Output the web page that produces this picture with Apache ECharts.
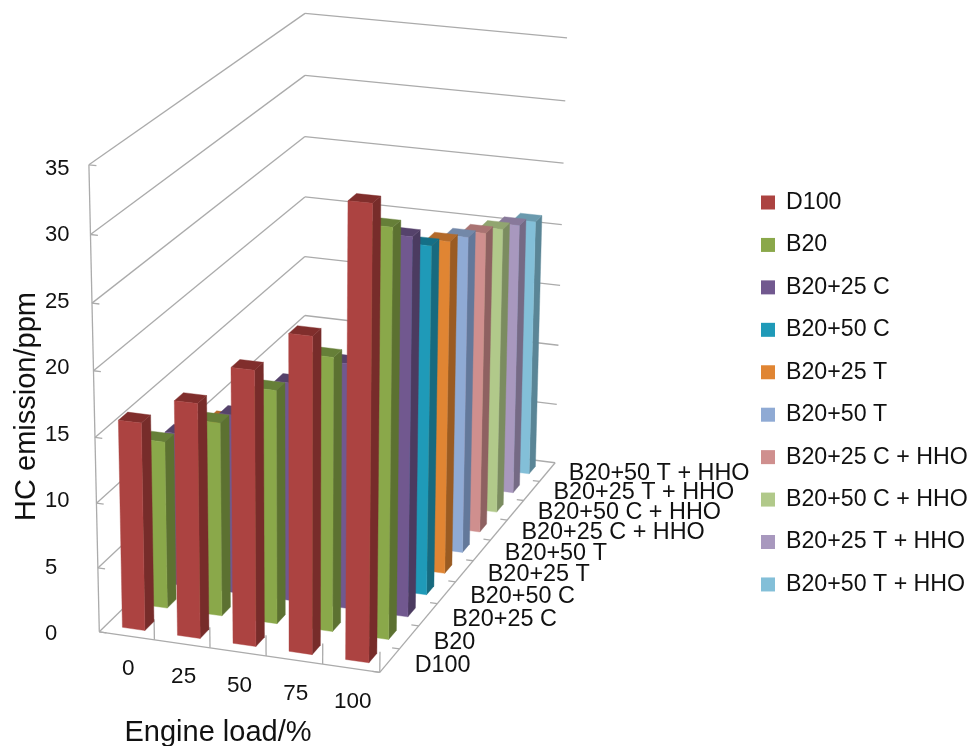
<!DOCTYPE html>
<html>
<head>
<meta charset="utf-8">
<style>html,body{margin:0;padding:0;background:#fff}#chart{width:970px;height:746px}</style>
<script src="https://cdn.jsdelivr.net/npm/echarts@6/dist/echarts.min.js"></script>
</head>
<body>
<div id="chart"></div>
<script>
// Categories along the two floor axes
const loads = ['0', '25', '50', '75', '100'];
const fuels = ['D100', 'B20', 'B20+25 C', 'B20+50 C', 'B20+25 T', 'B20+50 T',
  'B20+25 C + HHO', 'B20+50 C + HHO', 'B20+25 T + HHO', 'B20+50 T + HHO'];

// HC emission (ppm) per fuel, one value per engine load
const d100     = [16, 18, 21, 24, 34];
const b20      = [13, 15, 18, 21, 31];
const b20c25   = [12, 14, 17, 19, 29];
const b20c50   = [10, 13, 15, 18, 27];
const b20t25   = [10, 12, 14, 17, 26];
const b20t50   = [8, 11, 13, 16, 25];
const b20c25h  = [7, 11, 12, 15, 24];
const b20c50h  = [7, 10, 12, 15, 23];
const b20t25h  = [6, 8, 11, 14, 22];
const b20t50h  = [6, 8, 10, 13, 21];
const fuelValues = [d100, b20, b20c25, b20c50, b20t25, b20t50, b20c25h, b20c50h, b20t25h, b20t50h];

const valueTicks = [0, 5, 10, 15, 20, 25, 30, 35];

// Face shades per fuel: front, side, top
const shades = [
  ['#AC4341', '#772C2A', '#802E2C'], ['#8AA84A', '#5C7131', '#667F38'],
  ['#71588F', '#4B3B60', '#55426B'], ['#1F9AB8', '#176A7F', '#146F87'],
  ['#E08533', '#9A5B22', '#B36A2A'], ['#8FAAD4', '#63789A', '#7388A8'],
  ['#CF8F8E', '#8E6161', '#A97372'], ['#B1C98A', '#7B8C60', '#91A570'],
  ['#A898BE', '#756A85', '#88799A'], ['#83BFD8', '#5A8596', '#6A9AAE']
];

// Perspective camera: fitted from where the box corners land on the page
const anchors = [
  [0, 0, 0, 99, 631], [5, 0, 0, 380, 673], [5, 10, 0, 555, 462], [0, 10, 0, 305, 432],
  [0, 0, 35, 89, 165], [0, 10, 35, 305, 13], [5, 10, 35, 567, 38]
];
function fitCamera(pts) {
  const n = 11, A = [], b = [];
  for (let i = 0; i < n; i++) { A.push(new Array(n).fill(0)); b.push(0); }
  const addRow = (r, t) => {
    for (let i = 0; i < n; i++) { b[i] += r[i] * t; for (let j = 0; j < n; j++) A[i][j] += r[i] * r[j]; }
  };
  pts.forEach(([X0, Y0, Z0, x, y]) => {
    const X = X0 / 5, Y = Y0 / 10, Z = Z0 / 35;
    addRow([X, Y, Z, 1, 0, 0, 0, 0, -x * X, -x * Y, -x * Z], x);
    addRow([0, 0, 0, 0, X, Y, Z, 1, -y * X, -y * Y, -y * Z], y);
  });
  for (let c = 0; c < n; c++) {
    let p = c;
    for (let r = c + 1; r < n; r++) if (Math.abs(A[r][c]) > Math.abs(A[p][c])) p = r;
    [A[c], A[p]] = [A[p], A[c]]; [b[c], b[p]] = [b[p], b[c]];
    for (let r = c + 1; r < n; r++) {
      const f = A[r][c] / A[c][c];
      for (let k = c; k < n; k++) A[r][k] -= f * A[c][k];
      b[r] -= f * b[c];
    }
  }
  const h = new Array(n).fill(0);
  for (let r = n - 1; r >= 0; r--) {
    let s = b[r];
    for (let k = r + 1; k < n; k++) s -= A[r][k] * h[k];
    h[r] = s / A[r][r];
  }
  return h;
}
const cam = fitCamera(anchors);
function project(u, v, w) {
  const X = u / 5, Y = v / 10, Z = w / 35;
  const d = cam[8] * X + cam[9] * Y + cam[10] * Z + 1;
  return [(cam[0] * X + cam[1] * Y + cam[2] * Z + cam[3]) / d,
          (cam[4] * X + cam[5] * Y + cam[6] * Z + cam[7]) / d];
}

const barU = 0.41, barV = 0.40;
const lineStyle = { stroke: '#ABABAB', lineWidth: 1.3, fill: null };
const textColor = '#111';
const fontFamily = '"Liberation Sans", Arial, sans-serif';

function seg(a, b) {
  return { type: 'line', shape: { x1: a[0], y1: a[1], x2: b[0], y2: b[1] }, style: lineStyle, silent: true };
}
function label(text, pos, align, size) {
  return { type: 'text', x: pos[0], y: pos[1], silent: true, style: {
    text, fill: textColor, font: size + 'px ' + fontFamily, align, verticalAlign: 'middle' } };
}

// Walls, gridlines, floor edges, ticks and the slanted floor-axis labels
function renderFrame() {
  const kids = [];
  valueTicks.forEach((w) => {
    kids.push(seg(project(0, 0, w), project(0, 10, w)));
    kids.push(seg(project(0, 10, w), project(5, 10, w)));
    kids.push(seg(project(0, 0, w), project(0.13, 0, w)));
  });
  kids.push(seg(project(0, 0, 0), project(0, 0, 35)));
  kids.push(seg(project(0, 0, 0), project(5, 0, 0)));
  kids.push(seg(project(5, 0, 0), project(5, 10, 0)));
  loads.forEach((name, i) => {
    kids.push(seg(project(i + 1, 0, 0), project(i + 1, 0, 1.6)));
    const p = project(i + 0.5, 0, 0);
    kids.push(label(name, [p[0] + 1.5, p[1] + 33.5], 'center', 22.5));
  });
  fuels.forEach((name, i) => {
    kids.push(seg(project(5, i, 0), project(4.87, i, 0)));
    const p = project(5, i + 0.5, 0);
    kids.push(label(name, [p[0] + 25 - 0.4 * i, p[1] + 5.5 - 0.45 * i], 'left', 23.4));
  });
  return { type: 'group', children: kids };
}

// One bar as three visible faces, from its load index and value
function renderBar(fuelIndex) {
  return function (params, api) {
    const u = api.value(0), w = api.value(1);
    const u0 = u + 0.5 - barU / 2, u1 = u + 0.5 + barU / 2;
    const v0 = fuelIndex + 0.5 - barV / 2, v1 = fuelIndex + 0.5 + barV / 2;
    const c = shades[fuelIndex];
    const face = (pts, fill) => ({ type: 'polygon', shape: { points: pts }, silent: true,
      style: { fill, stroke: fill, lineWidth: 0.4 } });
    return { type: 'group', children: [
      face([project(u1, v0, 0), project(u1, v1, 0), project(u1, v1, w), project(u1, v0, w)], c[1]),
      face([project(u0, v0, w), project(u1, v0, w), project(u1, v1, w), project(u0, v1, w)], c[2]),
      face([project(u0, v0, 0), project(u1, v0, 0), project(u1, v0, w), project(u0, v0, w)], c[0])
    ] };
  };
}

const barSeries = fuels.map((name, i) => ({
  name, type: 'custom', coordinateSystem: 'cartesian2d', z: 30 - i,
  itemStyle: { color: shades[i][0] },
  encode: { x: 0, y: 1 },
  data: fuelValues[i].map((val, k) => [k, val]),
  renderItem: renderBar(i)
}));

const chart = echarts.init(document.getElementById('chart'), null, { renderer: 'canvas' });
chart.setOption({
  animation: false,
  backgroundColor: '#fff',
  textStyle: { fontFamily },
  grid: { left: 85, right: 619, top: 169, bottom: 112, outerBoundsMode: 'none' },
  xAxis: {
    type: 'category', data: loads,
    name: 'Engine load/%', nameLocation: 'middle', nameGap: 84,
    nameTextStyle: { fontSize: 29, color: textColor, fontFamily },
    axisLine: { show: false }, axisTick: { show: false }, axisLabel: { show: false }, splitLine: { show: false }
  },
  yAxis: {
    type: 'value', min: 0, max: 35, interval: 5,
    name: 'HC emission/ppm', nameLocation: 'middle', nameGap: 43,
    nameTextStyle: { fontSize: 29, color: textColor, fontFamily, padding: [0, 10, 0, 0] },
    axisLine: { show: false }, axisTick: { show: false }, splitLine: { show: false },
    axisLabel: { fontSize: 22, color: textColor, fontFamily, align: 'left', margin: 40 }
  },
  legend: {
    data: fuels, orient: 'vertical', left: 756, top: 186, icon: 'rect',
    itemWidth: 14, itemHeight: 14, itemGap: 19.44, selectedMode: false,
    textStyle: { fontSize: 23.2, color: textColor, fontFamily, padding: [0, 0, 0, 6] }
  },
  series: [{
    type: 'custom', coordinateSystem: 'cartesian2d', z: 1, silent: true,
    encode: { x: 0, y: 1 }, data: [[0, 0]], renderItem: renderFrame
  }].concat(barSeries)
});
</script>
</body>
</html>
